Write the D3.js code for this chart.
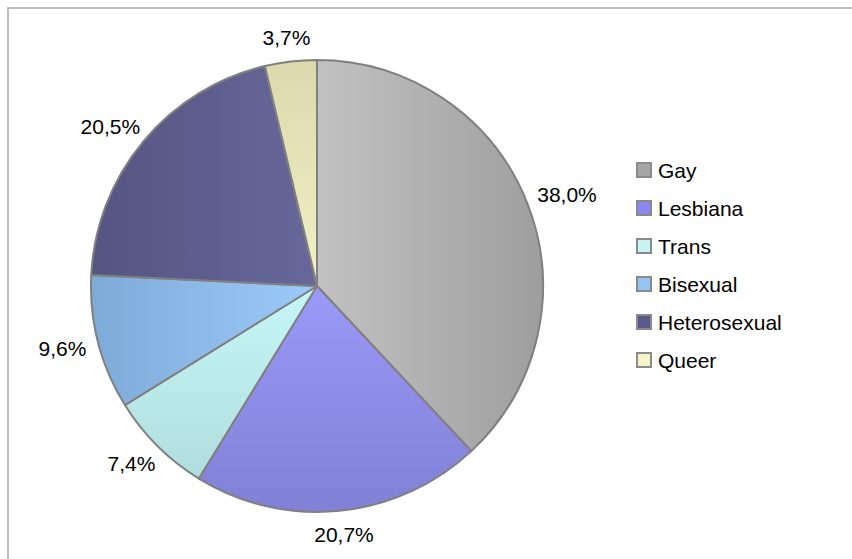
<!DOCTYPE html>
<html>
<head>
<meta charset="utf-8">
<script src="https://cdn.jsdelivr.net/npm/d3@7"></script>
<style>
  body { margin: 0; background: #fff; }
  svg { display: block; font-family: "Liberation Sans", Arial, sans-serif; }
</style>
</head>
<body>
<script>
// chart data
const categories = ["Gay", "Lesbiana", "Trans", "Bisexual", "Heterosexual", "Queer"];
const values = [38.0, 20.7, 7.4, 9.6, 20.5, 3.7];

// slice fills: gradient start / end colour and direction
const gradFrom = ["#c2c2c2", "#9a9af8", "#c6f6f6", "#7eaad8", "#555582", "#dadaae"];
const gradTo   = ["#9e9e9e", "#8080d6", "#b0dede", "#9ccaf8", "#67679a", "#f0f0c4"];
const gradDir  = ["h", "v", "v", "h", "v2", "v"];
const legendFill = ["#a6a6a6", "#8888ee", "#c8f4f4", "#96c4f4", "#5a5a8a", "#f4f4c8"];

const W = 852, H = 559;
const cx = 317, cy = 286, r = 226;

const fmt = d3.formatLocale({decimal: ",", thousands: ".", grouping: [3], currency: ["", ""]}).format(".1f");

const svg = d3.select("body").append("svg")
    .attr("width", W)
    .attr("height", H);

// outer frame
svg.append("rect")
    .attr("x", 8).attr("y", 8)
    .attr("width", W + 20).attr("height", H + 20)
    .attr("fill", "none")
    .attr("stroke", "#bdbdbd")
    .attr("stroke-width", 2);

const defs = svg.append("defs");
categories.forEach((c, i) => {
  const g = defs.append("linearGradient").attr("id", "grad" + i);
  if (gradDir[i] === "h") g.attr("x1", 0).attr("y1", 0).attr("x2", 1).attr("y2", 0);
  else if (gradDir[i] === "v2") g.attr("x1", 0).attr("y1", 0).attr("x2", 1).attr("y2", 0);
  else g.attr("x1", 0).attr("y1", 0).attr("x2", 0).attr("y2", 1);
  g.append("stop").attr("offset", "0%").attr("stop-color", gradFrom[i]);
  g.append("stop").attr("offset", "100%").attr("stop-color", gradTo[i]);
});

const pie = d3.pie().sort(null).value(d => d);
const arcs = pie(values);
const arc = d3.arc().innerRadius(0).outerRadius(r);

const chart = svg.append("g").attr("transform", `translate(${cx},${cy})`);

chart.selectAll("path.slice")
    .data(arcs)
    .enter()
    .append("path")
    .attr("class", "slice")
    .attr("d", arc)
    .attr("fill", (d, i) => `url(#grad${i})`)
    .attr("stroke", "#808080")
    .attr("stroke-width", 2)
    .attr("stroke-linejoin", "round");

// data labels placed just outside the rim
const labelR = r + 13;
chart.selectAll("text.lbl")
    .data(arcs)
    .enter()
    .append("text")
    .attr("class", "lbl")
    .attr("font-size", 21)
    .attr("fill", "#000")
    .attr("text-anchor", "middle")
    .text(d => fmt(d.data) + "%")
    .each(function(d) {
      const a = (d.startAngle + d.endAngle) / 2;
      const w = this.getComputedTextLength();
      const x = Math.sin(a) * labelR + Math.sin(a) * w / 2;
      const y = -Math.cos(a) * labelR - Math.cos(a) * 11;
      d3.select(this).attr("x", x).attr("y", y + 7.5);
    });

// legend
const legend = svg.append("g").attr("transform", "translate(637,170)");
const rows = legend.selectAll("g")
    .data(categories)
    .enter()
    .append("g")
    .attr("transform", (d, i) => `translate(0,${i * 38})`);

rows.append("rect")
    .attr("x", 0).attr("y", -7)
    .attr("width", 14).attr("height", 14)
    .attr("fill", (d, i) => legendFill[i])
    .attr("stroke", "#8a8a8a")
    .attr("stroke-width", 2);

rows.append("text")
    .attr("x", 21).attr("y", 7.5)
    .attr("font-size", 21)
    .attr("fill", "#000")
    .text(d => d);
</script>
</body>
</html>
